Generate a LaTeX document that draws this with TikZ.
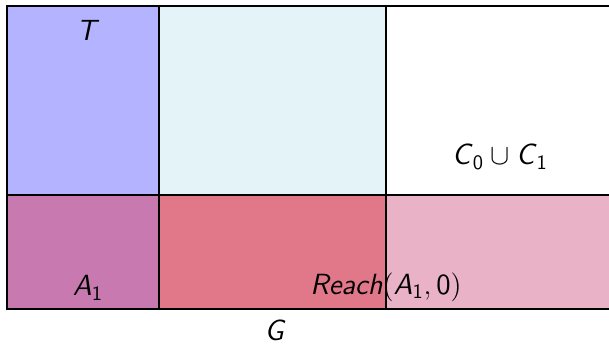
\documentclass[tikz,border=0pt]{standalone}
\usepackage{amsmath}
\definecolor{cblue}{RGB}{179,179,255}
\definecolor{ccyan}{RGB}{227,243,247}
\definecolor{cmauve}{RGB}{200,122,176}
\definecolor{cred}{RGB}{224,120,138}
\definecolor{cpink}{RGB}{234,178,198}
\newcommand{\mi}[1]{\textsf{\textit{#1}}}
\newcommand{\mn}[1]{\textsf{#1}}
\tikzset{
  region/.style={draw=black, line width=1pt},
  lbl/.style={inner sep=0pt, font=\fontsize{14.6}{17}\selectfont\sffamily}
}
\begin{document}
\begin{tikzpicture}[x=0.5pt,y=-0.5pt]
\useasboundingbox (0,0) rectangle (609,343);
\clip (0,0) rectangle (609,343);
\fill[cblue] (7,6) rectangle (159,195);
\fill[ccyan] (159,6) rectangle (386,195);
\fill[cmauve] (7,195) rectangle (159,309);
\fill[cred] (159,195) rectangle (386,309);
\fill[cpink] (386,195) rectangle (615,309);
\draw[region] (615,6) -- (7,6) -- (7,309) -- (615,309);
\draw[region] (7,195) -- (615,195);
\draw[region] (159,6) -- (159,309);
\draw[region] (386,6) -- (386,309);
\node[lbl] (t) at (88,30) {$\mi{T}$};
\node[lbl] (c) at (500,157) {$\mi{C}_{\mn{0}}\cup\mi{C}_{\mn{1}}$};
\node[lbl] (a) at (88,288) {$\mi{A}_{\mn{1}}$};
\node[lbl] (r) at (386,287) {$\mi{Reach}(\mi{A}_{\mn{1}},\mn{0})$};
\node[lbl] (g) at (275,330) {$\mi{G}$};
\end{tikzpicture}
\end{document}
